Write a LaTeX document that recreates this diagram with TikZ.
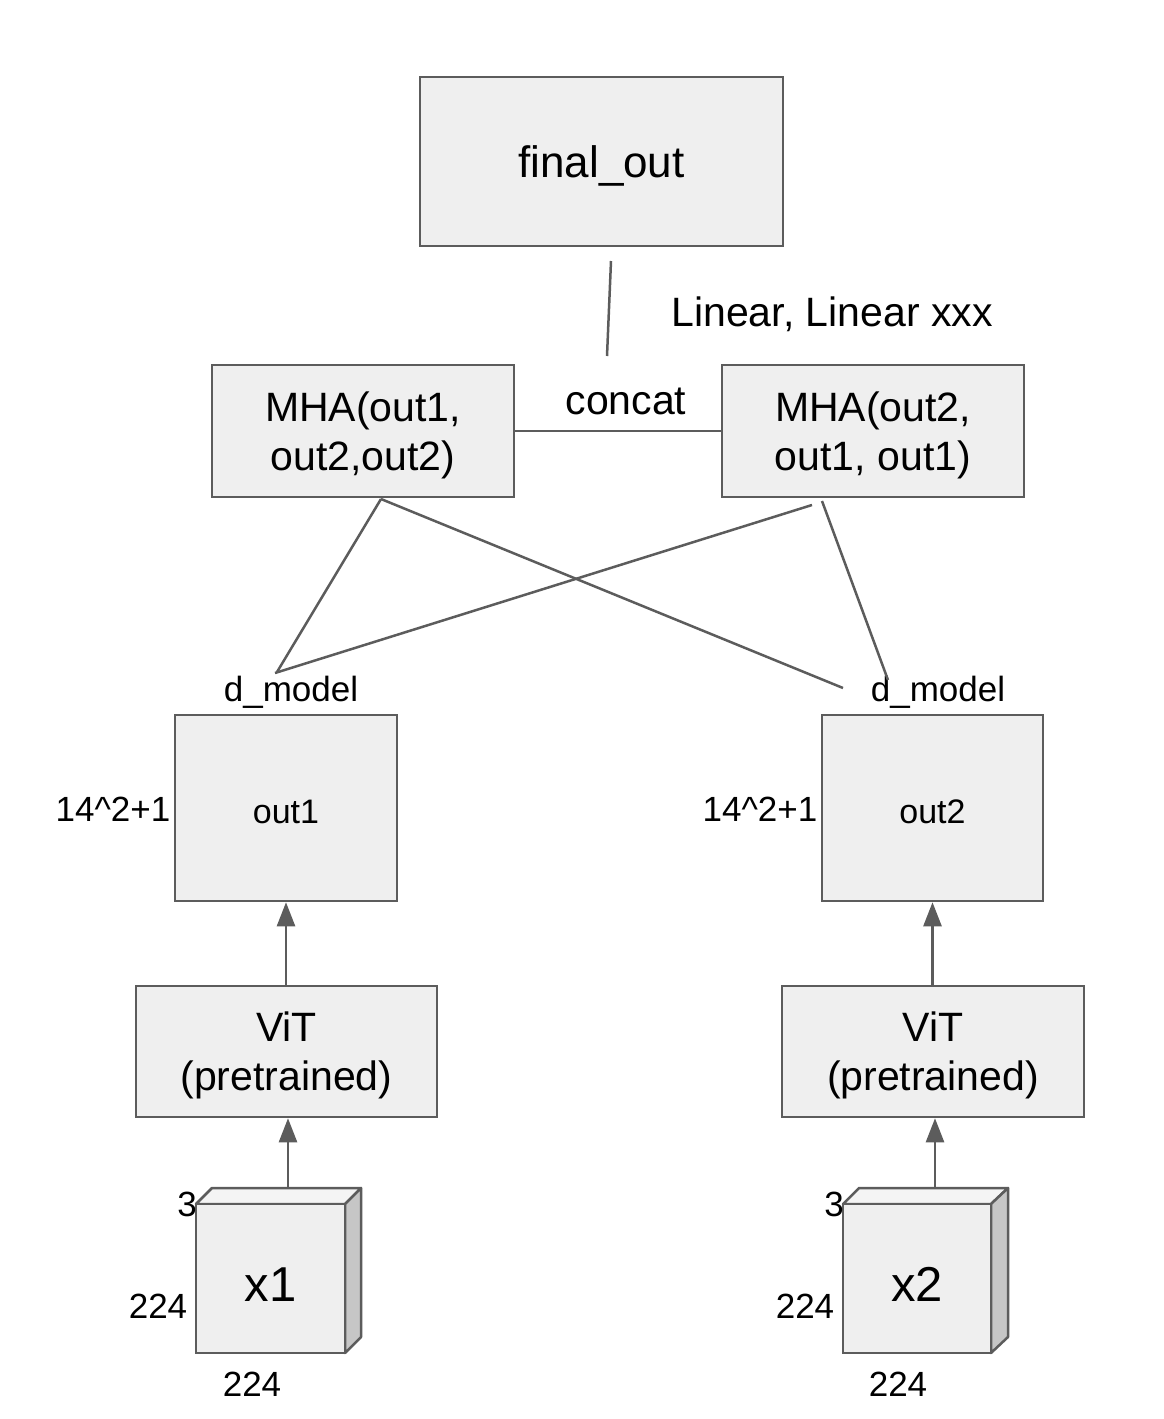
\documentclass[tikz,border=0pt]{standalone}
\usepackage{fontspec}
\setmainfont{Liberation Sans}
\usetikzlibrary{arrows.meta}
\definecolor{strokegray}{HTML}{5C5C5C}
\definecolor{boxfill}{HTML}{EFEFEF}
\definecolor{sidefill}{HTML}{C6C6C6}
\definecolor{topfill}{HTML}{F4F4F4}
\newcommand\tstrut{\rule{0pt}{0.93em}}
\tikzset{
  box/.style={draw=strokegray, fill=boxfill, line width=2.5pt, inner sep=0pt, align=center,
              font=\fontsize{41}{49}\selectfont},
  lbl/.style={inner sep=0pt, font=\fontsize{35}{42}\selectfont},
  biglbl/.style={inner sep=0pt, font=\fontsize{41}{49}\selectfont},
  conn/.style={draw=strokegray, line width=2.5pt},
  arr/.style={draw=strokegray, line width=2.5pt, -{Triangle[length=24pt,width=18pt]}},
  face/.style={draw=strokegray, line width=2.5pt, line join=round},
}
\begin{document}
\begin{tikzpicture}[x=1pt,y=-1pt]
\useasboundingbox (0,0) rectangle (1163,1419);

% top box
\node[box, minimum width=363pt, minimum height=169pt, font=\fontsize{44}{51}\selectfont] (final) at (601.5,161.5) {\tstrut final\_out};

% MHA boxes
\node[box, minimum width=302pt, minimum height=132pt] (mha1) at (363,431) {\tstrut MHA(out1,\\out2,out2)};
\node[box, minimum width=302pt, minimum height=132pt] (mha2) at (873,431) {\tstrut MHA(out2,\\out1, out1)};

% concat
\draw[conn] (mha1.east) -- (mha2.east -| mha2.west);
\node[biglbl] (concatlbl) at (626,401) {concat};
\node[biglbl] (linlbl) at (832,314) {Linear, Linear xxx};

% vertical line below final_out
\coordinate (vtop) at (611,261);
\coordinate (vbot) at (607,356);
\draw[conn] (vtop) -- (vbot);

% out boxes
\node[box, minimum width=222pt, minimum height=186pt, font=\fontsize{34}{41}\selectfont] (out1) at (286,808) {\tstrut out1};
\node[box, minimum width=221pt, minimum height=186pt, font=\fontsize{34}{41}\selectfont] (out2) at (932.5,808) {\tstrut out2};

\node[lbl] (dm1) at (291,692) {d\_model};
\node[lbl] (dm2) at (938,692) {d\_model};
\node[lbl] (h1) at (113,809) {14\textasciicircum 2+1};
\node[lbl] (h2) at (760,809) {14\textasciicircum 2+1};

% crossing lines
\coordinate (m1b) at (381,499);
\coordinate (m2b) at (812,505);
\coordinate (m2c) at (822,501);
\coordinate (l1e) at (277,672);
\coordinate (l3e) at (275,673);
\coordinate (l2e) at (843,688);
\coordinate (l4e) at (888,680);
\draw[conn] (m1b) -- (l1e);
\draw[conn] (m1b) -- (l2e);
\draw[conn] (m2b) -- (l3e);
\draw[conn] (m2c) -- (l4e);

% ViT boxes
\node[box, minimum width=301pt, minimum height=131pt] (vit1) at (286.5,1051.5) {\tstrut ViT\\(pretrained)};
\node[box, minimum width=302pt, minimum height=131pt] (vit2) at (933,1051.5) {\tstrut ViT\\(pretrained)};

\draw[arr] (vit1.north -| out1.south) -- (out1.south);
\draw[arr] (vit2.north -| out2.south) -- (out2.south);

% cubes
\draw[face, fill=topfill] (196,1204) -- (212,1188) -- (361,1188) -- (345,1204) -- cycle;
\draw[face, fill=sidefill] (345,1204) -- (361,1188) -- (361,1337) -- (345,1353) -- cycle;
\node[box, minimum width=149pt, minimum height=149pt, font=\fontsize{49}{56}\selectfont] (x1) at (270.5,1278.5) {\tstrut x1};
\coordinate (c1top) at (288,1188);

\draw[face, fill=topfill] (843,1204) -- (859,1188) -- (1008,1188) -- (991,1204) -- cycle;
\draw[face, fill=sidefill] (991,1204) -- (1008,1188) -- (1008,1337) -- (991,1353) -- cycle;
\node[box, minimum width=148pt, minimum height=149pt, font=\fontsize{49}{56}\selectfont] (x2) at (917,1278.5) {\tstrut x2};
\coordinate (c2top) at (935,1188);

\draw[arr] (c1top) -- (c1top |- vit1.south);
\draw[arr] (c2top) -- (c2top |- vit2.south);

\node[lbl] (d1) at (187,1204) {3};
\node[lbl] (w1) at (158,1306) {224};
\node[lbl] (b1) at (252,1384) {224};
\node[lbl] (d2) at (834,1204) {3};
\node[lbl] (w2) at (805,1306) {224};
\node[lbl] (b2) at (898,1384) {224};
\end{tikzpicture}
\end{document}
